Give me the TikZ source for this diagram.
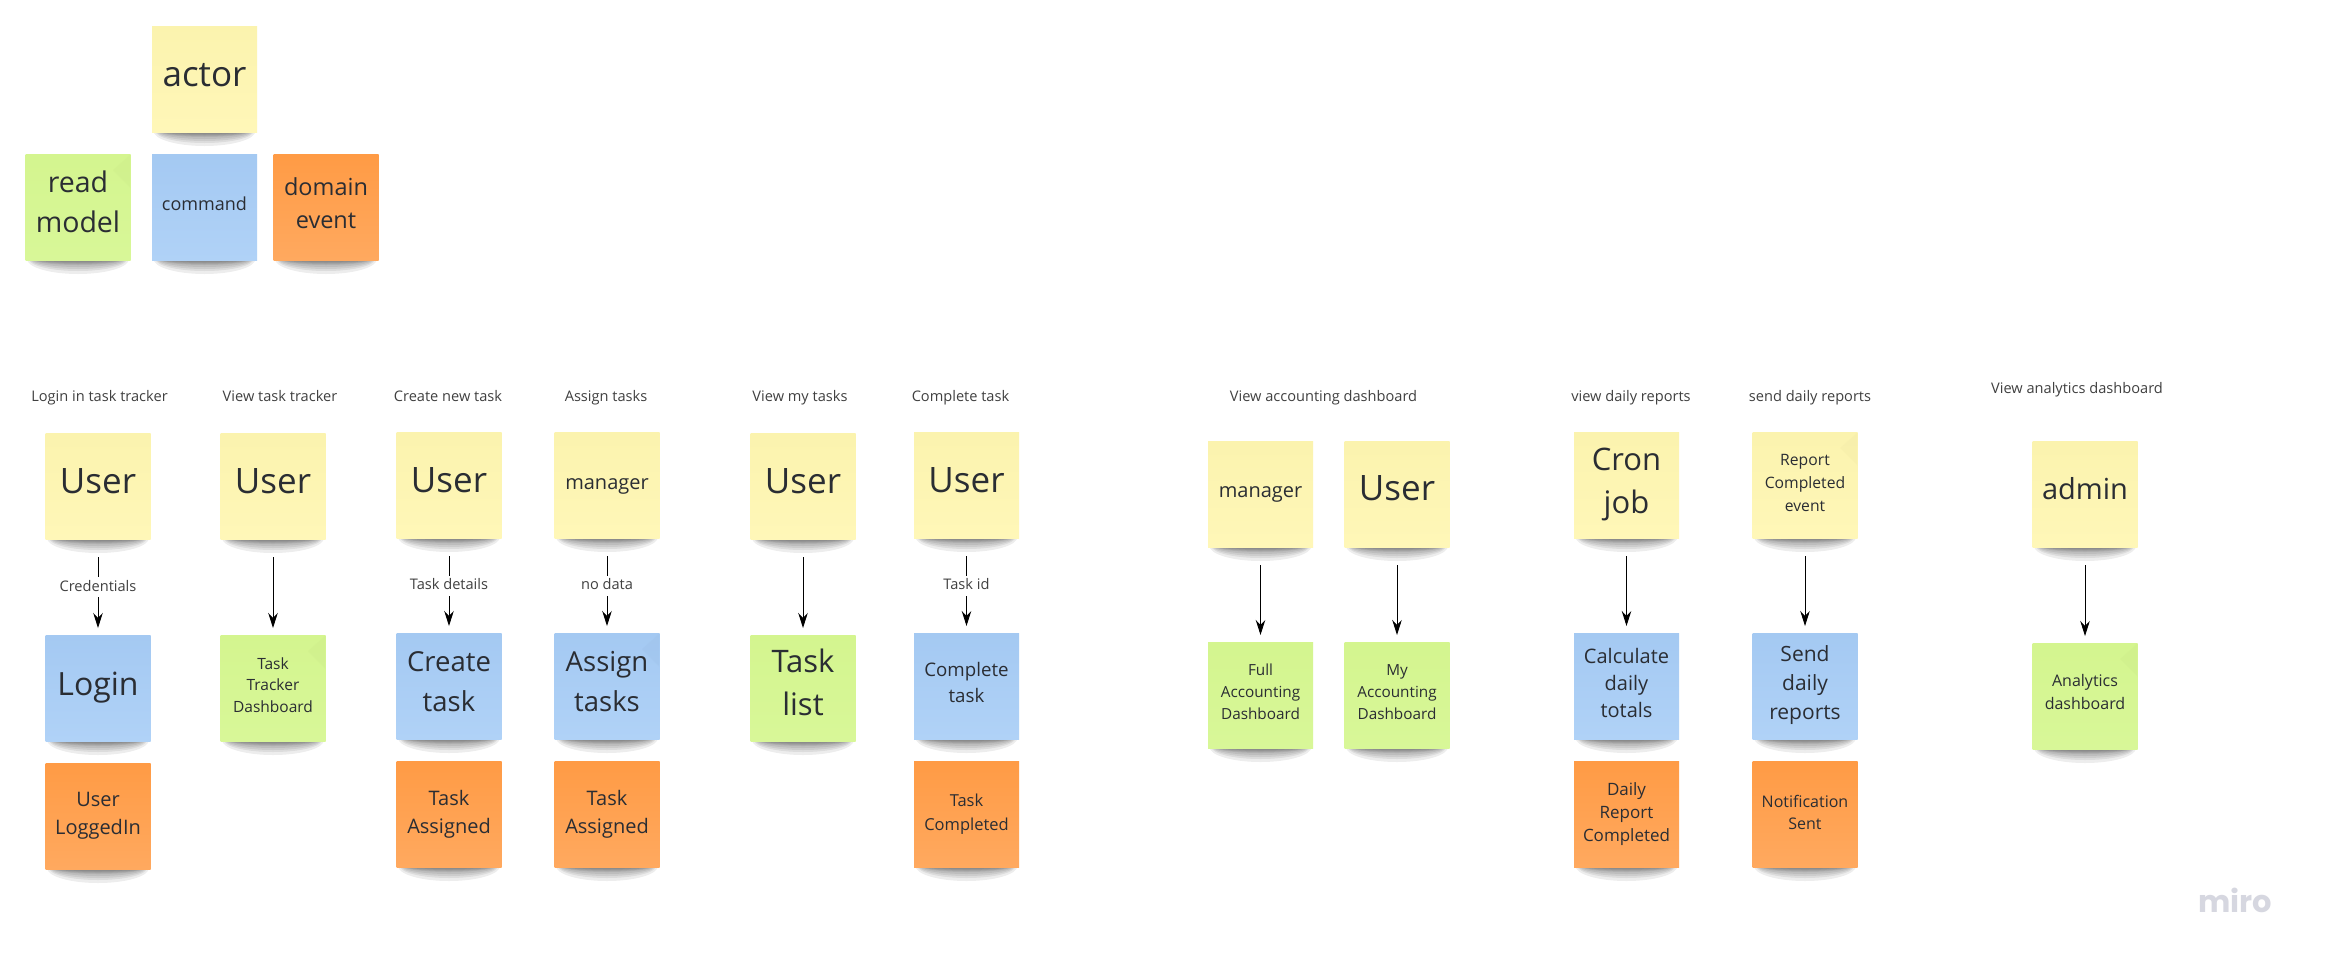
\documentclass[tikz,border=0pt]{standalone}
\usepackage{fontspec}
\setmainfont{Open Sans}
\newfontfamily\mirofont{Poppins}
\usetikzlibrary{arrows.meta}
\definecolor{inkc}{HTML}{2A2D33}
\definecolor{stY1}{HTML}{FBF3AE}\definecolor{stY2}{HTML}{FFF7B8}
\definecolor{stB1}{HTML}{A4C9F2}\definecolor{stB2}{HTML}{B0D2F7}
\definecolor{stG1}{HTML}{D4F58F}\definecolor{stG2}{HTML}{D8F798}
\definecolor{stO1}{HTML}{FF9B45}\definecolor{stO2}{HTML}{FFA95F}
\tikzset{
  x=1pt,y=-1pt,
  stickybase/.style={minimum width=105pt,minimum height=106pt,inner sep=0pt,outer sep=0pt,text width=103pt,align=center,text=inkc},
  yellowbox/.style={stickybase,bottom color=stY2,top color=stY1},
  bluebox/.style={stickybase,bottom color=stB2,top color=stB1},
  greenbox/.style={stickybase,bottom color=stG2,top color=stG1},
  orangebox/.style={stickybase,bottom color=stO2,top color=stO1},
  caption/.style={font=\fontsize{14.6}{18}\selectfont,text=black!75,inner sep=0pt,text height=11pt,text depth=3pt},
  flow/.style={draw=black,line width=0.9pt,-{Stealth[length=15pt,width=9.5pt]},shorten <=18pt,shorten >=7pt},
  flowlabel/.style={font=\fontsize{14.6}{18}\selectfont,text=black!75,fill=white,inner xsep=1pt,inner ysep=3pt,text height=11pt,text depth=3pt,pos=.5},
}
% name, x, y, style, font size, line spacing, first baseline y, text
\newcommand{\sticky}[8]{%
  \foreach \rx/\ry in {51/15,49/12,48/10,47/8,46/6,45/5,44/4,43/3}{
    \fill[black,opacity=.07] (#2,#3+52) ellipse [x radius=\rx pt,y radius=\ry pt];
  }
  \node[#4,font=\fontsize{#5}{#6}\selectfont,text height={0.75*#5 pt},text depth={(2*(#3-#7)+0.75*#5)*1pt}] (#1) at (#2,#3) {#8};
}
\newcommand{\fold}[3]{%
  \fill[#3!97!black,opacity=.45] (#1+52,#2-52) -- (#1+35,#2-37) -- (#1+52,#2-20) -- cycle;
}
\begin{document}
\begin{tikzpicture}
\useasboundingbox (0,0) rectangle (2326,967);
\fill[white] (0,0) rectangle (2326,967);
% legend
\sticky{actor}{204.5}{79}{yellowbox}{35}{46}{86}{actor}
\sticky{rm}{78}{207}{greenbox}{28.5}{40}{192.7}{read\\model}\fold{78}{207}{stG1}
\sticky{cmd}{204.5}{207}{bluebox}{18}{24}{210}{command}
\sticky{de}{326}{207}{orangebox}{23.5}{33}{195}{domain\\event}
% captions
\node[caption] (c1) at (99.5,397) {Login in task tracker};
\node[caption] (c2) at (280,397) {View task tracker};
\node[caption] (c3) at (448,397) {Create new task};
\node[caption] (c4) at (606,397) {Assign tasks};
\node[caption] (c5) at (800,397) {View my tasks};
\node[caption] (c6) at (960.5,397) {Complete task};
\node[caption] (c7) at (1323.5,397) {View accounting dashboard};
\node[caption] (c8) at (1631,397) {view daily reports};
\node[caption] (c9) at (1810,397) {send daily reports};
\node[caption] (c10) at (2077,389) {View analytics dashboard};
% column 1
\sticky{u1}{98}{486}{yellowbox}{35}{46}{493.3}{User}
\sticky{k1}{98}{688}{bluebox}{32}{42}{695}{Login}
\sticky{e1}{98}{816}{orangebox}{20}{28}{806}{User\\LoggedIn}
% column 2
\sticky{u2}{273}{486}{yellowbox}{35}{46}{493.3}{User}
\sticky{g2}{273}{688}{greenbox}{15.5}{21.6}{669}{Task\\Tracker\\Dashboard}\fold{273}{688}{stG1}
% column 3
\sticky{u3}{449}{485}{yellowbox}{35}{46}{492}{User}
\sticky{k3}{449}{686}{bluebox}{27.5}{40}{671.7}{Create\\task}
\sticky{e3}{449}{814}{orangebox}{20}{28}{805}{Task\\Assigned}
% column 4
\sticky{u4}{607}{485}{yellowbox}{20}{27}{489.3}{manager}
\sticky{k4}{607}{686}{bluebox}{27.5}{40}{671.7}{Assign\\tasks}\fold{607}{686}{stB1}
\sticky{e4}{607}{814}{orangebox}{20}{28}{805}{Task\\Assigned}
% column 5
\sticky{u5}{803}{486}{yellowbox}{35}{46}{493}{User}
\sticky{g5}{803}{688}{greenbox}{31}{43}{672.3}{Task\\list}
% column 6
\sticky{u6}{966.5}{485}{yellowbox}{35}{46}{492.3}{User}
\sticky{k6}{966.5}{686}{bluebox}{18.7}{26}{676.7}{Complete\\task}
\sticky{e6}{966.5}{814}{orangebox}{16.5}{24}{806}{Task\\Completed}
% column 7 and 8
\sticky{u7}{1260.5}{494}{yellowbox}{20}{27}{497.3}{manager}
\sticky{g7}{1260.5}{695}{greenbox}{15.3}{22}{675}{Full\\Accounting\\Dashboard}
\sticky{u8}{1397}{494}{yellowbox}{35}{46}{500}{User}
\sticky{g8}{1397}{695}{greenbox}{15.3}{22}{675}{My\\Accounting\\Dashboard}
% column 9
\sticky{u9}{1626.5}{485}{yellowbox}{31}{43}{470}{Cron\\job}
\sticky{k9}{1626.5}{686}{bluebox}{20}{27}{663.3}{Calculate\\daily\\totals}
\sticky{e9}{1626.5}{814}{orangebox}{17}{23}{795}{Daily\\Report\\Completed}
% column 10
\sticky{u10}{1805}{485}{yellowbox}{15.7}{23.3}{465}{Report\\Completed\\event}\fold{1805}{485}{stY1}
\sticky{k10}{1805}{686}{bluebox}{21}{29.2}{661}{Send\\daily\\reports}
\sticky{e10}{1805}{814}{orangebox}{16}{22}{807.3}{Notification\\Sent}
% column 11
\sticky{u11}{2085}{494}{yellowbox}{29}{40}{499}{admin}
\sticky{g11}{2085}{696}{greenbox}{16}{23}{686}{Analytics\\dashboard}\fold{2085}{696}{stG1}
% connectors
\draw[flow] (u1) -- node[flowlabel] (l1) {Credentials} (k1);
\draw[flow] (u2) -- (g2);
\draw[flow] (u3) -- node[flowlabel] (l3) {Task details} (k3);
\draw[flow] (u4) -- node[flowlabel] (l4) {no data} (k4);
\draw[flow] (u5) -- (g5);
\draw[flow] (u6) -- node[flowlabel] (l6) {Task id} (k6);
\draw[flow] (u7) -- (g7);
\draw[flow] (u8) -- (g8);
\draw[flow] (u9) -- (k9);
\draw[flow] (u10) -- (k10);
\draw[flow] (u11) -- (g11);
% watermark
\node[inner sep=0pt] (miro) at (2235,900) {\mirofont\bfseries\fontsize{30.5}{36}\selectfont\color[HTML]{D6D7E0}miro};
\end{tikzpicture}
\end{document}
